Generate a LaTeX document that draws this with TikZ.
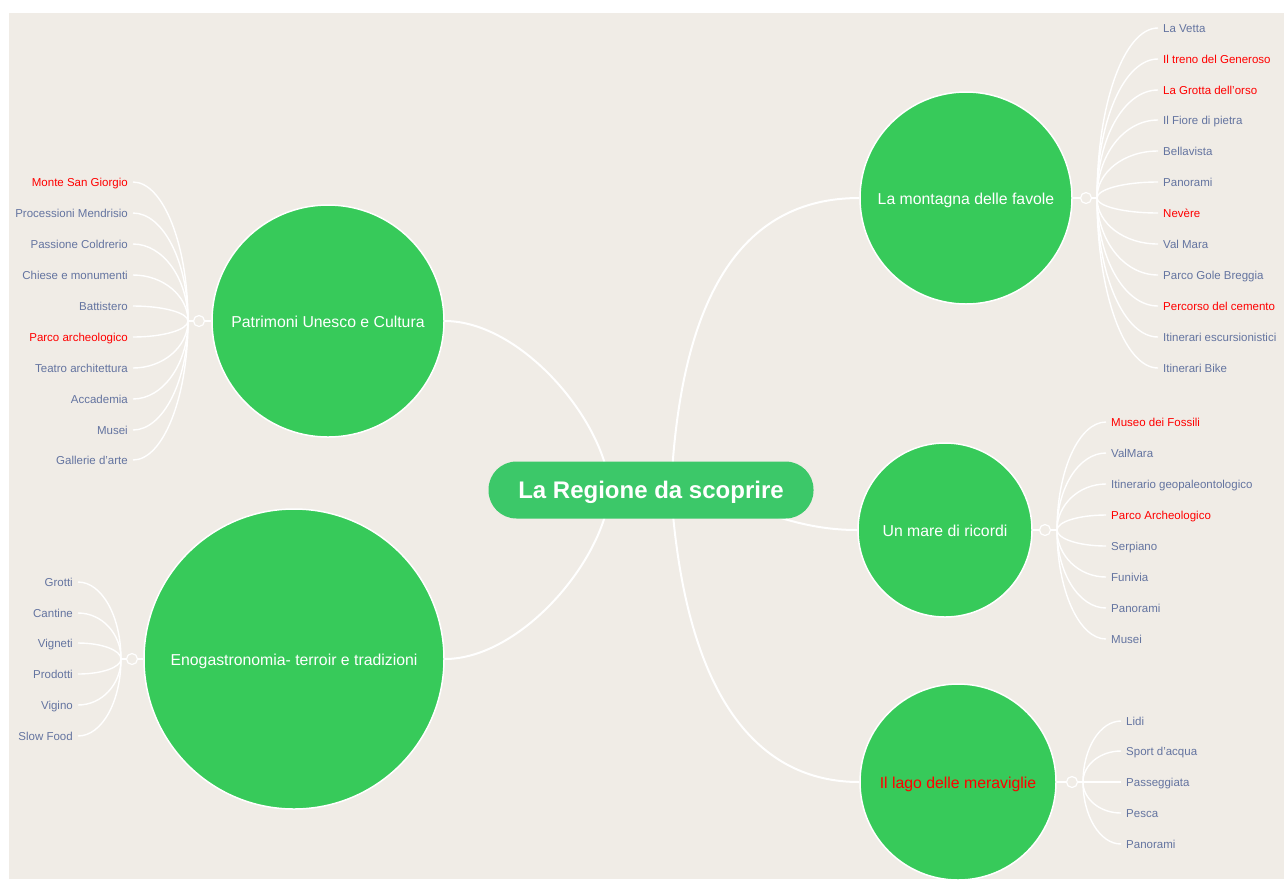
\documentclass[tikz,border=0pt]{standalone}
\usepackage{fontspec}
\setmainfont{Liberation Sans}
\usetikzlibrary{calc}
\pgfdeclarelayer{back}
\pgfdeclarelayer{bg}
\pgfsetlayers{back,bg,main}
\definecolor{beige}{RGB}{240,236,230}
\definecolor{topicg}{RGB}{55,202,90}
\definecolor{rootg}{RGB}{60,200,105}
\definecolor{leafc}{RGB}{100,116,160}
\definecolor{leafred}{RGB}{255,0,0}
\begin{document}
\begin{tikzpicture}[x=1pt,y=-1pt,
  topic/.style={circle, draw=white, line width=1.5pt, fill=topicg, text=white,
    font=\fontsize{15.8}{18}\selectfont, inner sep=0pt, align=center,
    text height=15pt, text depth=3pt},
  rootbox/.style={rectangle, rounded corners=28pt, fill=rootg, text=white,
    font=\bfseries\fontsize{24}{28}\selectfont, minimum width=325pt,
    minimum height=57pt, inner sep=0pt, text height=21pt, text depth=4pt},
  leaf/.style={font=\fontsize{11.5}{13}\selectfont, inner xsep=5pt, inner ysep=0pt,
    text height=10.5pt, text depth=2.5pt},
  conn/.style={draw=white, line width=2pt},
  sub/.style={draw=white, line width=1.4pt},
  toggle/.style={circle, draw=white, line width=1.2pt, minimum size=11pt, inner sep=0pt}]
\useasboundingbox (0,0) rectangle (1284,879);
\begin{pgfonlayer}{back}
  \fill[white] (0,0) rectangle (1284,879);
  \fill[beige] (9,13) rectangle (1284,879);
\end{pgfonlayer}

% main nodes
\node[rootbox] (root) at (651,490) {La Regione da scoprire};
\node[topic, minimum size=232pt] (pat) at (328,321) {Patrimoni Unesco e Cultura};
\node[topic, minimum size=300pt] (eno) at (294,659) {Enogastronomia- terroir e tradizioni};
\node[topic, minimum size=212pt] (mon) at (966,198) {La montagna delle favole};
\node[topic, minimum size=174pt] (mare) at (945,530) {Un mare di ricordi};
\node[topic, minimum size=196pt, text=leafred] (lago) at (958,782) {Il lago delle meraviglie};

\coordinate (rl) at ($(root.center)+(-41,0)$);
\coordinate (rr) at ($(root.center)+(20,0)$);
\coordinate (rm) at ($(root.center)+(49,0)$);

% junctions
\coordinate (monj) at (1097,198);
\coordinate (marej) at (1057,530);
\coordinate (lagoj) at (1083,782);
\coordinate (patj) at (188,321);
\coordinate (enoj) at (121,659);

\node[toggle] (mont) at (1086,198) {};
\node[toggle] (maret) at (1045,530) {};
\node[toggle] (lagot) at (1072,782) {};
\node[toggle] (patt) at (199,321) {};
\node[toggle] (enot) at (132,659) {};

\begin{pgfonlayer}{bg}
  \draw[conn] (rl) .. controls +(-5,-70) and +(76,0) .. (pat.east);
  \draw[conn] (rl) .. controls +(-5,70) and +(76,0) .. (eno.east);
  \draw[conn] (rr) .. controls +(9,-190) and +(-120,0) .. (mon.west);
  \draw[conn] (rr) .. controls +(14,210) and +(-100,0) .. (lago.west);
  \draw[conn] (rm) .. controls +(60,20) and +(-58,0) .. (mare.west);
  \draw[sub] (mon.east) -- (mont) -- (monj);
  \draw[sub] (mare.east) -- (maret) -- (marej);
  \draw[sub] (lago.east) -- (lagot) -- (lagoj);
  \draw[sub] (pat.west) -- (patt) -- (patj);
  \draw[sub] (eno.west) -- (enot) -- (enoj);
\end{pgfonlayer}

% montagna leaves
\foreach \t/\y/\c [count=\i] in {La Vetta/28/leafc, Il treno del Generoso/59/leafred,
  La Grotta dell'orso/90/leafred, Il Fiore di pietra/120/leafc, Bellavista/151/leafc,
  Panorami/182/leafc, Nevère/213/leafred, Val Mara/244/leafc, Parco Gole Breggia/275/leafc,
  Percorso del cemento/306/leafred, Itinerari escursionistici/337/leafc, Itinerari Bike/368/leafc}{
  \node[leaf, text=\c, anchor=west] (m\i) at (1158,\y) {\t};
  \begin{pgfonlayer}{bg}
  \draw[sub] (monj) .. controls +(0,{0.55*(\y-198)}) and +(-34,0) .. (m\i.west);
  \end{pgfonlayer}
}
% mare leaves
\foreach \t/\y/\c [count=\i] in {Museo dei Fossili/422/leafred, ValMara/453/leafc,
  Itinerario geopaleontologico/484/leafc, Parco Archeologico/515/leafred, Serpiano/546/leafc,
  Funivia/577/leafc, Panorami/608/leafc, Musei/639/leafc}{
  \node[leaf, text=\c, anchor=west] (r\i) at (1106,\y) {\t};
  \begin{pgfonlayer}{bg}
  \draw[sub] (marej) .. controls +(0,{0.55*(\y-530)}) and +(-27,0) .. (r\i.west);
  \end{pgfonlayer}
}
% lago leaves
\foreach \t/\y [count=\i] in {Lidi/721, Sport d'acqua/751, Passeggiata/782, Pesca/813, Panorami/844}{
  \node[leaf, text=leafc, anchor=west] (l\i) at (1121,\y) {\t};
  \begin{pgfonlayer}{bg}
  \draw[sub] (lagoj) .. controls +(0,{0.55*(\y-782)}) and +(-21,0) .. (l\i.west);
  \end{pgfonlayer}
}
% patrimoni leaves
\foreach \t/\y/\c [count=\i] in {Monte San Giorgio/182/leafred, Processioni Mendrisio/213/leafc,
  Passione Coldrerio/244/leafc, Chiese e monumenti/275/leafc, Battistero/306/leafc,
  Parco archeologico/337/leafred, Teatro architettura/368/leafc, Accademia/399/leafc,
  Musei/430/leafc, Gallerie d'arte/460/leafc}{
  \node[leaf, text=\c, anchor=east] (p\i) at (133,\y) {\t};
  \begin{pgfonlayer}{bg}
  \draw[sub] (patj) .. controls +(0,{0.55*(\y-321)}) and +(30,0) .. (p\i.east);
  \end{pgfonlayer}
}
% eno leaves
\foreach \t/\y [count=\i] in {Grotti/582, Cantine/613, Vigneti/643, Prodotti/674, Vigino/705, Slow Food/736}{
  \node[leaf, text=leafc, anchor=east] (e\i) at (78,\y) {\t};
  \begin{pgfonlayer}{bg}
  \draw[sub] (enoj) .. controls +(0,{0.55*(\y-659)}) and +(24,0) .. (e\i.east);
  \end{pgfonlayer}
}
\end{tikzpicture}
\end{document}
